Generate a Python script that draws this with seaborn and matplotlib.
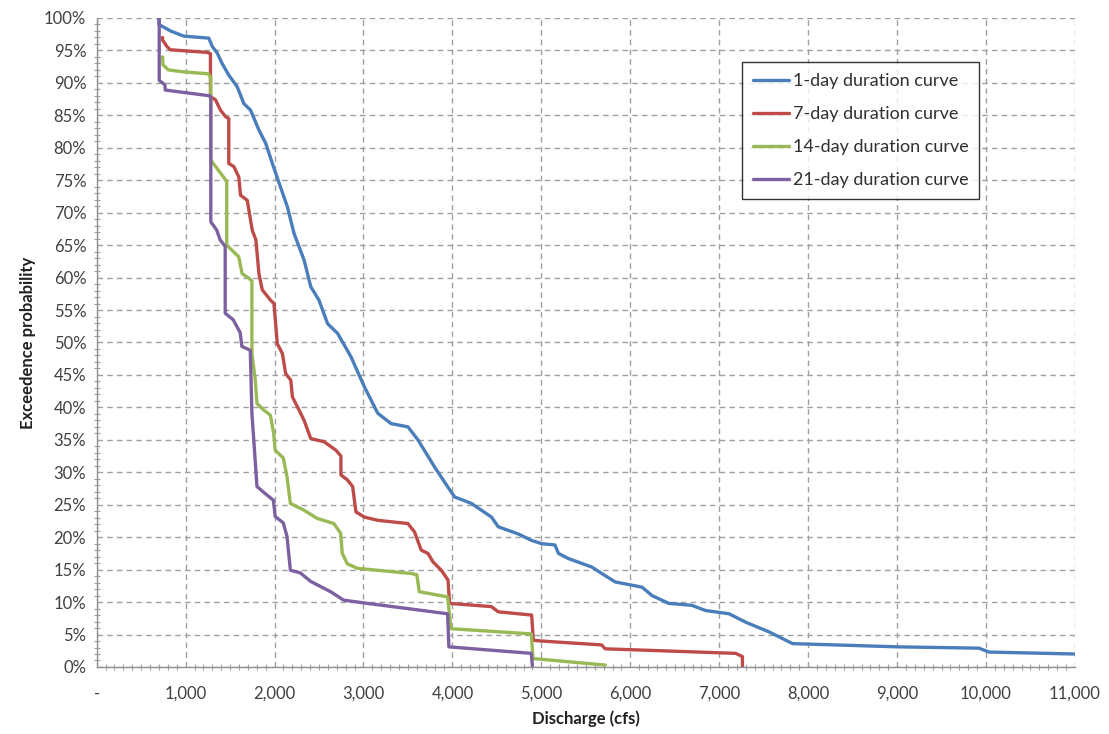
#!/usr/bin/env python3
"""
Curvas de permanência (duration curves) - 1, 7, 14 e 21 dias.
Gera out.png.
"""
import numpy as np
import pandas as pd
import matplotlib
matplotlib.use('Agg')
import matplotlib.pyplot as plt
from matplotlib.ticker import FuncFormatter, MultipleLocator
import seaborn as sns

# --- dados (vazão em cfs, probabilidade em %) ---
q_1day = [700, 700, 830, 980, 1260, 1300, 1355, 1410, 1485, 1580, 1655, 1730,
          1825, 1900, 1975, 2040, 2144, 2219, 2332, 2407, 2500, 2596, 2709,
          2859, 3009, 3160, 3310, 3499, 3612, 3800, 3950, 4025, 4214, 4439,
          4515, 4740, 4891, 5004, 5153, 5192, 5305, 5567, 5680, 5831, 6132,
          6245, 6433, 6693, 6846, 7110, 7298, 7562, 7825, 9019, 9921, 10034,
          11000]
p_1day = [100, 99, 98, 97.2, 96.9, 95.6, 94.6, 93, 91.2, 89.4, 86.8, 85.8,
          82.7, 80.7, 77.6, 75, 70.9, 66.8, 62.7, 58.6, 56.5, 52.9, 51.4,
          47.8, 43.2, 39.1, 37.5, 37, 35, 30.8, 27.7, 26.2, 25.2, 23.1,
          21.6, 20.5, 19.5, 19, 18.8, 17.5, 16.7, 15.4, 14.4, 13.1, 12.3,
          11, 9.8, 9.5, 8.7, 8.2, 6.9, 5.4, 3.6, 3.1, 2.9, 2.3,
          2.0]

q_7day = [741, 741, 790, 827, 1242, 1279, 1279, 1335, 1392, 1448, 1485, 1485,
          1542, 1598, 1617, 1693, 1749, 1790, 1824, 1862, 1956, 1993, 2031,
          2088, 2125, 2182, 2201, 2275, 2332, 2407, 2558, 2690, 2746, 2746,
          2821, 2878, 2915, 3009, 3160, 3499, 3574, 3649, 3725, 3781, 3875,
          3950, 3968, 4439, 4515, 4891, 4910, 5113, 5677, 5718, 7185, 7261,
          7261]
p_7day = [97, 96.6, 95.6, 95.1, 94.7, 94.5, 87.9, 87.4, 85.8, 84.8, 84.5, 77.6,
          77.1, 75.5, 72.7, 71.9, 67.3, 65.8, 60.6, 58.1, 56.5, 56, 49.8,
          48.3, 45.2, 44.2, 41.6, 39.6, 38, 35.2, 34.7, 33.4, 32.5, 29.6,
          28.8, 27.8, 23.9, 23.1, 22.6, 22.1, 20.8, 18, 17.5, 16.2, 14.9,
          13.4, 9.8, 9.3, 8.5, 8, 4.1, 3.9, 3.4, 2.8, 2.1, 1.6,
          0]

q_14day = [741, 745, 805, 974, 1256, 1283, 1283, 1425, 1462, 1462, 1597, 1635,
           1710, 1745, 1745, 1783, 1802, 1878, 1953, 1990, 2007, 2098, 2140,
           2178, 2326, 2478, 2667, 2743, 2761, 2818, 2931, 3539, 3600, 3627,
           3946, 3983, 4887, 4905, 5718]
p_14day = [94, 92.8, 92, 91.7, 91.4, 90.8, 78.1, 75.5, 74.8, 65, 63.2, 60.6,
           59.9, 59.5, 48.3, 44.2, 40.6, 39.6, 38.8, 36, 33.4, 32.2, 29.3,
           25.2, 24.2, 22.9, 22.1, 20.6, 17.5, 15.9, 15.2, 14.4, 14.2, 11.6,
           10.8, 5.9, 5.1, 1.3, 0.3]

q_21day = [703, 703, 767, 770, 1275, 1283, 1283, 1350, 1388, 1445, 1445, 1535,
           1614, 1632, 1727, 1745, 1761, 1802, 1914, 1987, 2007, 2098, 2140,
           2178, 2290, 2404, 2630, 2776, 3044, 3946, 3960, 4887, 4900]
p_21day = [100, 90.4, 89.7, 88.9, 88, 87.5, 68.6, 67.3, 65.8, 64.8, 54.5, 53.5,
           51.5, 49.4, 48.8, 39.1, 36, 27.8, 26.5, 25.7, 23.2, 22.2, 20.1,
           14.9, 14.5, 13.2, 11.6, 10.3, 9.8, 8.2, 3.1, 2.1, 0]

labels = ['1-day duration curve', '7-day duration curve',
          '14-day duration curve', '21-day duration curve']
colors = ['#4A7EBB', '#BE4B48', '#98B954', '#7D60A0']

x_ticks = list(range(0, 11001, 1000))
y_ticks = list(range(0, 101, 5))


def build_frame():
    parts = []
    for lab, q, p in zip(labels, [q_1day, q_7day, q_14day, q_21day],
                         [p_1day, p_7day, p_14day, p_21day]):
        parts.append(pd.DataFrame({'discharge': q, 'prob': p, 'curve': lab,
                                   'order': np.arange(len(q))}))
    return pd.concat(parts, ignore_index=True)


def main():
    sns.set_style('white')
    plt.rcParams['font.family'] = ['Lato', 'DejaVu Sans']

    df = build_frame()

    fig = plt.figure(figsize=(11.09, 7.34), dpi=100)
    ax = fig.add_axes([0.0872, 0.0913, 0.9693 - 0.0872, 0.9755 - 0.0913])

    sns.lineplot(data=df, x='discharge', y='prob', hue='curve', units='curve',
                 estimator=None, sort=False, palette=colors, hue_order=labels,
                 linewidth=2.4, ax=ax)

    ax.set_xlim(0, 11000)
    ax.set_ylim(0, 100)
    ax.set_xticks(x_ticks)
    ax.set_yticks(y_ticks)
    ax.xaxis.set_minor_locator(MultipleLocator(100))
    ax.yaxis.set_minor_locator(MultipleLocator(1))
    ax.xaxis.set_major_formatter(FuncFormatter(lambda v, _: '-' if v == 0 else f'{int(v):,}'))
    ax.yaxis.set_major_formatter(FuncFormatter(lambda v, _: f'{v:.0f}%'))

    ax.grid(True, which='major', color='#a0a0a0', linestyle=(0, (4, 3)), linewidth=1.0)
    ax.set_axisbelow(True)
    for side in ['top', 'right']:
        ax.spines[side].set_visible(False)
    for side in ['left', 'bottom']:
        ax.spines[side].set_color('#909090')
        ax.spines[side].set_linewidth(1.0)

    ax.tick_params(which='major', direction='inout', length=7, width=1,
                   color='#909090', labelsize=12, labelcolor='#404040', pad=4)
    ax.tick_params(which='minor', direction='inout', length=4, width=0.8,
                   color='#a0a0a0', left=True, bottom=True)
    ax.tick_params(axis='x', pad=10)

    ax.set_xlabel('Discharge (cfs)', fontsize=12, fontweight='bold', color='#202020', labelpad=6)
    ax.set_ylabel('Exceedence probability', fontsize=12, fontweight='bold', color='#202020', labelpad=6)

    leg = ax.legend(loc='upper left', bbox_to_anchor=(0.66, 0.932), frameon=True,
                    fancybox=False, fontsize=13, handlelength=2.0, handletextpad=0.2,
                    borderpad=0.6, labelspacing=0.95, borderaxespad=0, title=None)
    leg.get_frame().set_edgecolor('black')
    leg.get_frame().set_linewidth(1.0)
    for t in leg.get_texts():
        t.set_color('#303030')

    fig.savefig('out.png', dpi=100)
    plt.close(fig)


if __name__ == '__main__':
    main()
